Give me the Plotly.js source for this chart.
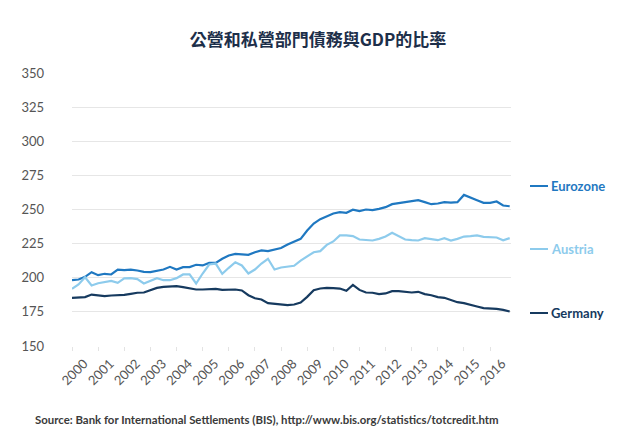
<!DOCTYPE html>
<html>
<head>
<meta charset="utf-8">
<script src="https://cdn.plot.ly/plotly-3.0.1.min.js"></script>
<style>html,body{margin:0;padding:0;background:#fff;}#chart{width:640px;height:444px;}</style>
</head>
<body>
<div id="chart"></div>
<script>
// Quarterly, 2000Q1 .. 2016Q4
const startYear = 2000;
const yearLabels = ["2000","2001","2002","2003","2004","2005","2006","2007","2008","2009","2010","2011","2012","2013","2014","2015","2016"];
const eurozone = [198.2,198.7,200.7,204.1,201.9,202.9,202.4,206.0,205.6,206.0,205.3,204.3,204.1,205.3,206.0,208.0,206.0,207.8,207.8,209.5,209.0,210.9,210.9,213.9,216.3,217.5,217.3,216.8,218.7,220.0,219.5,220.7,221.8,224.4,226.5,228.5,234.6,239.7,242.9,245.1,247.1,248.0,247.6,249.8,248.8,250.0,249.5,250.5,251.7,253.9,254.6,255.4,256.3,256.8,255.4,253.9,254.4,255.4,255.1,255.4,260.7,258.5,256.8,254.9,254.9,255.9,252.9,252.4];
const austria = [191.9,195.1,200.4,194.3,196.0,196.8,197.7,196.3,199.5,199.7,199.0,195.8,197.5,199.7,198.2,198.2,199.7,202.4,202.4,195.8,203.1,209.7,210.4,202.9,207.3,211.4,209.0,203.1,206.0,210.4,213.9,206.0,207.5,208.0,208.8,212.6,215.8,218.7,219.5,224.1,226.6,231.0,231.0,230.5,228.0,227.5,227.3,228.5,230.2,232.9,230.7,228.0,227.5,227.3,229.0,228.0,227.5,229.0,227.3,228.5,230.2,230.5,231.0,230.0,229.7,229.5,227.5,229.0];
const germany = [185.3,185.5,185.8,187.7,187.0,186.5,187.0,187.0,187.5,188.2,189.0,189.2,191.1,192.6,193.3,193.8,193.8,193.1,192.1,191.4,191.4,191.9,191.9,191.1,191.4,191.4,190.7,187.2,185.0,184.1,181.4,180.9,179.9,179.9,180.4,181.9,186.0,190.9,192.1,192.6,192.4,192.1,190.4,194.8,191.1,189.2,189.0,188.0,188.5,190.2,190.2,189.7,189.2,189.7,188.0,187.2,185.8,185.3,183.8,182.1,181.4,180.4,178.9,177.7,177.5,177.2,176.5,175.3];
const seriesNames = ["Eurozone","Austria","Germany"];
const seriesColors = ["#1f78c1","#8dcbec","#163a5f"];

const xq = eurozone.map((_, i) => startYear + i * 0.25);
const yearTicks = yearLabels.map(Number);

const traces = [eurozone, austria, germany].map((vals, k) => ({
  x: xq, y: vals, type: "scatter", mode: "lines",
  name: seriesNames[k], line: {color: seriesColors[k], width: 2.2, shape: "linear"},
  hoverinfo: "skip", showlegend: false
}));

const plotL = 72, plotR = 511, plotT = 73, plotB = 346;
const pw = plotR - plotL, ph = plotB - plotT;
const px2x = p => (p - plotL) / pw;
const py2y = p => (plotB - p) / ph;

const labelY = [186, 249, 313];
const shapes = [];
const annotations = [];
seriesNames.forEach((n, k) => {
  shapes.push({type: "line", xref: "paper", yref: "paper",
    x0: px2x(530), x1: px2x(548), y0: py2y(labelY[k]), y1: py2y(labelY[k]),
    line: {color: seriesColors[k], width: 2}});
  annotations.push({xref: "paper", yref: "paper", x: px2x(549), y: py2y(labelY[k]),
    xanchor: "left", yanchor: "middle", showarrow: false, text: "<b>" + n + "</b>",
    font: {family: "Lato, 'Open Sans', sans-serif", size: 13, color: seriesColors[k]}});
});
annotations.push({xref: "paper", yref: "paper", x: px2x(33), y: py2y(419),
  xanchor: "left", yanchor: "middle", showarrow: false,
  text: "<b>Source: Bank for International Settlements (BIS), http://www.bis.org/statistics/totcredit.htm</b>",
  font: {family: "Lato, 'Open Sans', sans-serif", size: 11.4, color: "#3a3a3a"}});

const layout = {
  width: 640, height: 444,
  margin: {l: plotL, r: 640 - plotR, t: plotT, b: 444 - plotB, pad: 0},
  paper_bgcolor: "#fff", plot_bgcolor: "#fff",
  title: {text: "<b>公營和私營部門債務與GDP的比率</b>", x: 318/640, xref: "container", xanchor: "center", y: 1 - 40/444, yanchor: "middle",
    font: {family: "'Noto Sans CJK TC', 'Noto Sans', sans-serif", size: 17, color: "#1d2f4a"}},
  xaxis: {type: "linear", range: [2000, 2016.8], tickmode: "array", tickvals: yearTicks, ticktext: yearLabels,
    ticks: "outside", ticklen: 4, tickcolor: "#e3e3e3", tickwidth: 1, tickangle: -45, ticklabelshift: 12,
    showgrid: false, zeroline: false, showline: false,
    tickfont: {family: "Lato, 'Open Sans', sans-serif", size: 13, color: "#555"}},
  yaxis: {range: [150, 350], tickmode: "array", tickvals: [150,175,200,225,250,275,300,325,350],
    showgrid: true, gridcolor: "#e6e6e6", gridwidth: 1, zeroline: false, showline: false,
    ticks: "", ticklabelstandoff: 27,
    tickfont: {family: "Lato, 'Open Sans', sans-serif", size: 13, color: "#555"}},
  shapes: shapes, annotations: annotations, showlegend: false
};

Plotly.newPlot("chart", traces, layout, {displayModeBar: false, staticPlot: true});
</script>
</body>
</html>
